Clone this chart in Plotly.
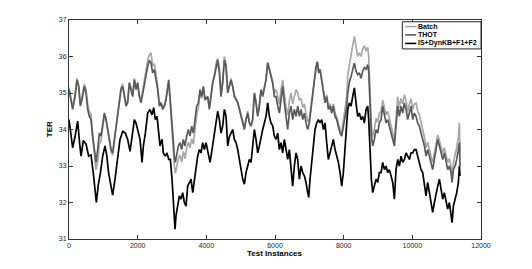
import plotly.graph_objects as go

# ---------------- data ----------------
x_gray = [0, 58, 107, 175, 233, 282, 330, 379, 447, 496, 544, 593, 641, 690, 738, 787, 835, 884, 933, 981,
          1030, 1078, 1127, 1175, 1224, 1272, 1321, 1369, 1418, 1466, 1515, 1563, 1612, 1660, 1709, 1757, 1806, 1855, 1904, 1952,
          2000, 2049, 2098, 2146, 2195, 2243, 2292, 2340, 2389, 2437, 2486, 2535, 2583, 2632, 2680, 2729, 2777, 2826, 2874, 2904,
          2942, 2981, 3020, 3069, 3098, 3137, 3185, 3234, 3282, 3331, 3379, 3428, 3476, 3525, 3573, 3622, 3671, 3719, 3768, 3816,
          3865, 3913, 3962, 4040, 4088, 4137, 4185, 4234, 4282, 4331, 4379, 4428, 4477, 4525, 4574, 4622, 4671, 4719, 4768, 4816,
          4865, 4914, 4962, 5011, 5059, 5108, 5156, 5205, 5253, 5302, 5350, 5399, 5447, 5496, 5545, 5593, 5642, 5690, 5739, 5787,
          5836, 5884, 5933, 5981, 6030, 6079, 6127, 6176, 6224, 6273, 6321, 6370, 6418, 6467, 6515, 6564, 6613, 6661, 6710, 6758,
          6807, 6855, 6904, 6952, 7001, 7049, 7098, 7147, 7195, 7234, 7273, 7312, 7360, 7409, 7457, 7506, 7554, 7603, 7651, 7700,
          7749, 7797, 7846, 7894, 7943, 7991, 8040, 8088, 8118, 8166, 8215, 8263, 8312, 8360, 8409, 8457, 8506, 8554, 8603, 8652,
          8700, 8729, 8768, 8807, 8846, 8894, 8943, 8991, 9040, 9089, 9137, 9186, 9234, 9283, 9331, 9380, 9428, 9477, 9525, 9574,
          9623, 9671, 9720, 9768, 9817, 9865, 9914, 9962, 10011, 10059, 10108, 10156, 10205, 10254, 10302, 10351, 10399, 10448, 10496, 10545,
          10593, 10642, 10691, 10739, 10788, 10836, 10885, 10933, 10982, 11030, 11079, 11128, 11157, 11196, 11244, 11293, 11341, 11370, 11390]

thot = [35.1, 34.82, 34.55, 34.9, 35.36, 35.18, 34.64, 34.82, 35.18, 35.0, 34.55, 34.36, 34.27, 33.82, 33.45, 33.1, 33.45, 33.9, 33.82, 34.18,
        34.45, 34.27, 34.0, 33.73, 33.45, 33.36, 33.73, 34.09, 34.45, 34.73, 35.09, 35.18, 34.9, 34.64, 34.73, 35.27, 35.09, 34.9, 35.36, 35.09,
        35.27, 34.9, 34.73, 35.0, 35.27, 35.55, 35.73, 35.9, 35.82, 35.55, 35.64, 35.36, 35.09, 34.64, 34.73, 34.55, 34.64, 34.82, 35.09, 35.36,
        34.9, 34.36, 33.73, 33.27, 33.1, 33.36, 33.55, 33.64, 33.45, 33.73, 33.55, 33.82, 34.0, 33.82, 34.09, 33.9, 34.27, 34.64, 34.73, 35.09,
        34.9, 35.18, 34.82, 34.9, 34.55, 35.0, 35.27, 35.45, 35.73, 35.9, 35.55, 34.9, 35.27, 35.9, 35.73, 35.0, 35.18, 35.36, 35.18, 34.9,
        34.82, 34.73, 34.55, 34.36, 34.18, 34.0, 34.27, 34.45, 34.18, 34.09, 34.27, 35.0, 34.73, 34.36, 34.64, 35.09, 34.9, 35.18, 35.36, 35.82,
        35.64, 35.45, 35.27, 34.9, 34.9, 34.64, 34.45, 34.82, 35.18, 34.73, 34.27, 34.0, 34.45, 34.64, 34.27, 34.55, 34.36, 34.64, 34.36, 34.55,
        34.27, 34.45, 34.18, 34.0, 34.18, 34.55, 35.0, 35.36, 35.73, 35.86, 35.55, 35.64, 35.36, 35.09, 34.73, 34.9, 34.55, 34.64, 34.45, 34.64,
        34.36, 34.27, 34.09, 33.9, 33.82, 34.09, 34.36, 34.6, 35.0, 35.3, 35.45, 35.6, 35.82, 35.6, 35.5, 35.55, 35.4, 35.6, 35.7, 35.65,
        35.78, 35.6, 34.64, 33.82, 33.55, 33.73, 34.0, 33.9, 34.18, 34.27, 34.64, 34.36, 34.18, 34.27, 34.09, 33.9, 33.73, 33.55, 34.09, 34.64,
        34.36, 34.64, 34.45, 34.73, 34.55, 34.27, 34.45, 34.64, 34.27, 34.45, 34.36, 34.18, 34.09, 33.9, 33.73, 33.55, 33.27, 33.45, 33.27, 33.1,
        32.9, 33.18, 33.45, 33.73, 33.55, 33.36, 33.18, 33.36, 33.1, 32.9, 33.0, 32.82, 32.55, 32.9, 33.0, 33.18, 33.45, 33.64, 33.0]

batch = [35.15, 34.9, 34.6, 34.95, 35.4, 35.2, 34.7, 34.9, 35.25, 35.1, 34.7, 34.5, 34.4, 33.8, 33.3, 32.9, 33.1, 33.6, 33.7, 34.1,
         34.4, 34.3, 34.05, 33.75, 33.4, 33.3, 33.7, 34.1, 34.5, 34.8, 35.15, 35.25, 34.95, 34.7, 34.8, 35.3, 35.15, 34.95, 35.4, 35.15,
         35.3, 34.95, 34.8, 35.1, 35.4, 35.7, 35.9, 36.05, 36.1, 35.75, 35.8, 35.5, 35.2, 34.7, 34.75, 34.6, 34.65, 34.85, 35.1, 35.3,
         34.8, 34.2, 33.5, 33.0, 32.8, 33.0, 33.2, 33.3, 33.1, 33.4, 33.2, 33.5, 33.65, 33.5, 33.75, 33.6, 34.0, 34.4, 34.6, 35.0,
         34.85, 35.15, 34.8, 34.9, 34.6, 35.05, 35.3, 35.5, 35.8, 35.95, 35.7, 35.0, 35.35, 36.0, 35.8, 35.1, 35.2, 35.4, 35.2, 34.95,
         34.85, 34.75, 34.6, 34.4, 34.2, 34.05, 34.3, 34.5, 34.2, 34.1, 34.3, 35.0, 34.75, 34.4, 34.7, 35.1, 34.95, 35.2, 35.4, 35.85,
         35.7, 35.5, 35.3, 35.0, 35.1, 34.9, 34.7, 35.1, 35.36, 35.0, 34.6, 34.4, 34.8, 35.0, 34.7, 34.9, 35.09, 35.0, 34.8, 34.85,
         34.6, 34.7, 34.4, 34.2, 34.3, 34.6, 35.0, 35.35, 35.7, 35.85, 35.6, 35.65, 35.4, 35.15, 34.8, 34.95, 34.65, 34.7, 34.55, 34.7,
         34.45, 34.35, 34.15, 34.0, 33.9, 34.2, 34.5, 34.9, 35.5, 35.8, 36.0, 36.3, 36.55, 36.2, 36.0, 36.1, 36.0, 36.2, 36.3, 36.15,
         36.25, 36.0, 34.9, 34.1, 33.8, 34.0, 34.3, 34.2, 34.45, 34.5, 34.8, 34.6, 34.4, 34.5, 34.3, 34.1, 33.9, 33.7, 34.3, 34.9,
         34.6, 34.85, 34.7, 34.95, 34.8, 34.5, 34.7, 34.85, 34.55, 34.7, 34.73, 34.5, 34.4, 34.2, 34.0, 33.8, 33.5, 33.65, 33.45, 33.3,
         33.1, 33.35, 33.6, 33.85, 33.7, 33.5, 33.35, 33.5, 33.3, 33.1, 33.2, 33.0, 32.8, 33.1, 33.3, 33.5, 33.8, 34.18, 33.4]

x_black = [0, 58, 107, 175, 253, 301, 350, 418, 496, 573, 641, 709, 767, 797, 855, 913, 981, 1049, 1098, 1156,
           1224, 1272, 1340, 1418, 1486, 1564, 1641, 1709, 1777, 1836, 1904, 1952, 2000, 2069, 2127, 2166, 2224, 2292, 2360, 2418,
           2467, 2515, 2564, 2612, 2651, 2709, 2748, 2806, 2855, 2904, 2952, 3001, 3049, 3088, 3117, 3166, 3214, 3263, 3311, 3360,
           3408, 3457, 3505, 3554, 3603, 3651, 3700, 3748, 3797, 3845, 3894, 3943, 3991, 4069, 4108, 4166, 4234, 4282, 4331, 4379,
           4428, 4477, 4525, 4574, 4622, 4671, 4719, 4768, 4816, 4865, 4914, 4962, 5011, 5059, 5108, 5156, 5205, 5253, 5302, 5350,
           5399, 5447, 5496, 5545, 5593, 5642, 5690, 5739, 5787, 5836, 5884, 5933, 5981, 6030, 6079, 6127, 6176, 6224, 6273, 6321,
           6370, 6418, 6467, 6515, 6564, 6613, 6661, 6710, 6758, 6807, 6855, 6904, 6952, 6982, 7020, 7069, 7118, 7166, 7215, 7263,
           7312, 7360, 7409, 7457, 7506, 7554, 7603, 7651, 7700, 7749, 7797, 7846, 7894, 7943, 7991, 8040, 8088, 8118, 8166, 8215,
           8263, 8312, 8360, 8409, 8457, 8506, 8554, 8603, 8652, 8700, 8729, 8768, 8807, 8846, 8894, 8943, 8991, 9040, 9089, 9137,
           9186, 9234, 9283, 9331, 9380, 9428, 9477, 9525, 9574, 9623, 9671, 9720, 9768, 9817, 9865, 9914, 9962, 10011, 10059, 10108,
           10156, 10205, 10254, 10302, 10351, 10399, 10448, 10496, 10545, 10593, 10642, 10691, 10739, 10788, 10836, 10885, 10933, 10982, 11030, 11079,
           11128, 11157, 11196, 11244, 11293, 11341, 11370, 11390]

is_dynkb = [34.27, 33.8, 33.5, 33.8, 34.23, 33.7, 33.27, 33.7, 33.6, 33.27, 33.3, 32.8, 32.18, 32.0, 32.5, 32.8, 33.27, 33.55, 33.3, 32.8,
            32.45, 32.2, 32.64, 33.2, 33.73, 33.95, 33.9, 33.73, 33.4, 33.8, 34.27, 34.18, 34.0, 33.73, 33.1, 33.55, 33.9, 34.45, 34.55, 34.4,
            34.6, 34.27, 34.36, 33.9, 33.55, 33.73, 33.36, 33.27, 33.36, 33.18, 33.18, 32.64, 31.9, 31.27, 31.64, 31.9, 32.18, 32.09, 32.27, 32.0,
            31.9, 32.45, 32.55, 32.64, 32.27, 32.64, 33.0, 33.27, 33.45, 33.36, 33.64, 33.45, 33.64, 33.32, 33.1, 33.45, 33.9, 34.27, 34.5, 34.27,
            33.9, 34.1, 34.55, 34.36, 33.55, 33.8, 33.9, 34.0, 33.73, 33.64, 33.45, 33.18, 33.0, 32.64, 32.5, 32.82, 33.0, 33.18, 33.1, 33.55,
            34.0, 33.73, 33.36, 33.55, 33.82, 34.0, 34.18, 34.36, 34.73, 34.36, 34.18, 34.1, 33.82, 33.73, 33.9, 33.45, 33.64, 33.36, 33.73, 33.45,
            33.18, 33.45, 32.9, 32.45, 33.0, 33.36, 33.18, 32.64, 33.0, 32.82, 32.73, 32.55, 32.27, 32.14, 32.64, 33.1, 33.55, 34.0, 34.18, 34.27,
            34.18, 34.27, 34.0, 34.18, 33.64, 33.18, 33.36, 33.55, 33.73, 33.45, 33.27, 33.1, 32.82, 32.45, 32.82, 33.55, 34.1, 34.55, 34.73, 34.64,
            34.9, 35.14, 34.73, 34.36, 34.45, 34.27, 34.36, 34.18, 34.55, 34.64, 34.27, 33.27, 32.64, 32.27, 32.45, 32.64, 32.55, 32.82, 32.82, 33.1,
            32.9, 33.0, 32.82, 32.9, 32.73, 32.55, 32.09, 32.9, 33.18, 33.0, 33.27, 33.1, 33.18, 33.36, 33.27, 33.18, 33.36, 33.36, 33.45, 33.45,
            33.27, 33.1, 32.9, 32.82, 32.45, 32.18, 32.55, 32.27, 32.0, 31.73, 32.0, 32.27, 32.45, 32.64, 32.36, 32.09, 32.27, 32.0, 31.82, 32.0,
            31.73, 31.45, 31.9, 32.09, 32.27, 32.55, 33.0, 32.73]

x_ticks = [0, 2000, 4000, 6000, 8000, 10000, 12000]
y_ticks = [31, 32, 33, 34, 35, 36, 37]
series_names = ["Batch", "THOT", "IS+DynKB+F1+F2"]
series_colors = ["#a8a8a8", "#5a5a5a", "#000000"]

# ---------------- figure ----------------
FONT = "Liberation Sans, Arial, sans-serif"
fig = go.Figure()
for name, xs, ys, col in [(series_names[0], x_gray, batch, series_colors[0]),
                          (series_names[1], x_gray, thot, series_colors[1]),
                          (series_names[2], x_black, is_dynkb, series_colors[2])]:
    fig.add_trace(go.Scatter(x=xs, y=ys, mode="lines", name=name, showlegend=False,
                             line=dict(color=col, width=1.7)))

axis_common = dict(showline=True, linecolor="#333333", linewidth=1, mirror="ticks",
                   ticks="inside", ticklen=4, tickcolor="#333333", showgrid=False,
                   zeroline=False, tickfont=dict(family=FONT, size=7, color="#222222"))
fig.update_xaxes(range=[0, 12000], tickvals=x_ticks, ticktext=[str(v) for v in x_ticks], **axis_common)
fig.update_yaxes(range=[31, 37], tickvals=y_ticks, ticktext=[str(v) for v in y_ticks], **axis_common)

# manual legend (MATLAB style box)
shapes = [dict(type="rect", xref="paper", yref="paper", x0=0.809, x1=1.0, y0=0.868, y1=0.992,
               line=dict(color="#222222", width=1), fillcolor="white", layer="above")]
annotations = []
leg_y = [0.970, 0.932, 0.893]
for name, col, yy in zip(series_names, series_colors, leg_y):
    shapes.append(dict(type="line", xref="paper", yref="paper", x0=0.816, x1=0.843, y0=yy, y1=yy,
                       line=dict(color=col, width=1.6), layer="above"))
    annotations.append(dict(text="<b>%s</b>" % name, xref="paper", yref="paper", x=0.845, y=yy,
                            xanchor="left", yanchor="middle", showarrow=False, borderpad=0,
                            font=dict(family=FONT, size=7, color="black")))

annotations.append(dict(text="<b>Test Instances</b>", xref="paper", yref="paper", x=0.5, y=-0.068,
                        xanchor="center", yanchor="middle", showarrow=False, borderpad=0,
                        font=dict(family=FONT, size=8, color="black")))
annotations.append(dict(text="<b>TER</b>", xref="paper", yref="paper", x=-0.047, y=0.5, textangle=-90,
                        xanchor="center", yanchor="middle", showarrow=False, borderpad=0,
                        font=dict(family=FONT, size=8, color="black")))

fig.update_layout(width=532, height=269, margin=dict(l=69, r=51, t=20, b=30),
                  paper_bgcolor="white", plot_bgcolor="white", shapes=shapes,
                  annotations=annotations, showlegend=False)

# remove the browser's default 8px page margin so the figure sits at the window origin
fig.write_html("out.html", config={"displayModeBar": False},
               post_script="document.body.style.margin='0px';")
